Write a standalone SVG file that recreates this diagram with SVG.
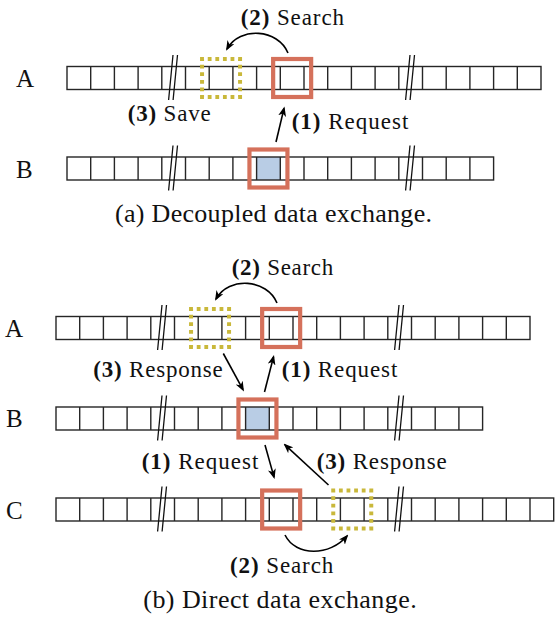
<svg xmlns="http://www.w3.org/2000/svg" width="555" height="617" viewBox="0 0 555 617">
<defs>
<style>
.row{fill:none;stroke:#262626;stroke-width:1.4}
.sl{stroke:#111;stroke-width:1.3;fill:none}
.blue{fill:#B9CDE5}
.red{fill:none;stroke:#D5715B;stroke-width:4.2}
.yel{fill:none;stroke:#C9B83A;stroke-width:4;stroke-dasharray:3.8 3.8;stroke-dashoffset:1.9}
.arr{fill:none;stroke:#000;stroke-width:1.6;marker-end:url(#ah)}
.lbl{font-family:"Liberation Serif","DejaVu Serif",serif;font-size:23px;fill:#111}
.cap{font-family:"Liberation Serif","DejaVu Serif",serif;font-size:26px;fill:#111}
.rl{font-family:"Liberation Serif","DejaVu Serif",serif;font-size:25px;fill:#111}
.b{font-weight:bold}
</style>
<marker id="ah" viewBox="0 0 10 8" refX="8" refY="4" markerWidth="10" markerHeight="8" markerUnits="userSpaceOnUse" orient="auto">
<path d="M0,0 L10,4 L0,8 L2.8,4 Z" fill="#000"/>
</marker>
</defs>
<rect width="555" height="617" fill="#fff"/>

<!-- (a) Decoupled -->
<g id="a-rowA">
<text class="rl" x="16" y="87">A</text>
<rect class="row" x="67" y="66.5" width="474" height="23"/>
<path class="row" d="M90.7,66.5V89.5M114.4,66.5V89.5M138.1,66.5V89.5M161.8,66.5V89.5M185.5,66.5V89.5M209.2,66.5V89.5M232.9,66.5V89.5M256.6,66.5V89.5M280.3,66.5V89.5M304,66.5V89.5M327.7,66.5V89.5M351.4,66.5V89.5M375.1,66.5V89.5M398.8,66.5V89.5M422.5,66.5V89.5M446.2,66.5V89.5M469.9,66.5V89.5M493.6,66.5V89.5M517.3,66.5V89.5"/>
<path class="sl" d="M173,55L168.6,100M177.5,55L173.1,100M410,55L405.6,100M414.5,55L410.1,100"/>
</g>
<g id="a-rowB">
<text class="rl" x="16" y="178">B</text>
<rect class="blue" x="256.6" y="157" width="23.7" height="23"/>
<rect class="row" x="67" y="157" width="426.6" height="23"/>
<path class="row" d="M90.7,157V180M114.4,157V180M138.1,157V180M161.8,157V180M185.5,157V180M209.2,157V180M232.9,157V180M256.6,157V180M280.3,157V180M304,157V180M327.7,157V180M351.4,157V180M375.1,157V180M398.8,157V180M422.5,157V180M446.2,157V180M469.9,157V180"/>
<path class="sl" d="M173,145.5L168.6,190.5M177.5,145.5L173.1,190.5M410,145.5L405.6,190.5M414.5,145.5L410.1,190.5"/>
</g>
<g id="a-boxes">
<rect class="red" x="273.15" y="59" width="38" height="38"/>
<rect class="yel" x="202.05" y="59" width="38" height="38"/>
<rect class="red" x="249.45" y="149.5" width="38" height="38"/>
</g>
<g id="a-connectors">
<path class="arr" d="M288,53 C278,29 240,26 227,49"/>
<path class="arr" d="M276,142 L284,108.4"/>
</g>
<g id="a-labels">
<text class="lbl" x="240.7" y="25" textLength="103.3" lengthAdjust="spacing"><tspan class="b">(2)</tspan> Search</text>
<text class="lbl" x="291.7" y="128.5" textLength="116.6" lengthAdjust="spacing"><tspan class="b">(1)</tspan> Request</text>
<text class="lbl" x="127.7" y="120.7" textLength="83" lengthAdjust="spacing"><tspan class="b">(3)</tspan> Save</text>
<text class="cap" x="115" y="221.7" textLength="317" lengthAdjust="spacing">(a) Decoupled data exchange.</text>
</g>

<!-- (b) Direct -->
<g id="b-rowA">
<text class="rl" x="5" y="337.3">A</text>
<rect class="row" x="56" y="316.5" width="474" height="23"/>
<path class="row" d="M79.7,316.5V339.5M103.4,316.5V339.5M127.1,316.5V339.5M150.8,316.5V339.5M174.5,316.5V339.5M198.2,316.5V339.5M221.9,316.5V339.5M245.6,316.5V339.5M269.3,316.5V339.5M293,316.5V339.5M316.7,316.5V339.5M340.4,316.5V339.5M364.1,316.5V339.5M387.8,316.5V339.5M411.5,316.5V339.5M435.2,316.5V339.5M458.9,316.5V339.5M482.6,316.5V339.5M506.3,316.5V339.5"/>
<path class="sl" d="M162,305L157.6,350M166.5,305L162.1,350M399,305L394.6,350M403.5,305L399.1,350"/>
</g>
<g id="b-rowB">
<text class="rl" x="6" y="427">B</text>
<rect class="blue" x="245.6" y="407" width="23.7" height="23"/>
<rect class="row" x="56" y="407" width="426.6" height="23"/>
<path class="row" d="M79.7,407V430M103.4,407V430M127.1,407V430M150.8,407V430M174.5,407V430M198.2,407V430M221.9,407V430M245.6,407V430M269.3,407V430M293,407V430M316.7,407V430M340.4,407V430M364.1,407V430M387.8,407V430M411.5,407V430M435.2,407V430M458.9,407V430"/>
<path class="sl" d="M162,395.5L157.6,440.5M166.5,395.5L162.1,440.5M399,395.5L394.6,440.5M403.5,395.5L399.1,440.5"/>
</g>
<g id="b-rowC">
<text class="rl" x="6" y="518.5">C</text>
<rect class="row" x="56" y="498" width="497.7" height="23"/>
<path class="row" d="M79.7,498V521M103.4,498V521M127.1,498V521M150.8,498V521M174.5,498V521M198.2,498V521M221.9,498V521M245.6,498V521M269.3,498V521M293,498V521M316.7,498V521M340.4,498V521M364.1,498V521M387.8,498V521M411.5,498V521M435.2,498V521M458.9,498V521M482.6,498V521M506.3,498V521M530,498V521"/>
<path class="sl" d="M162,486.5L157.6,531.5M166.5,486.5L162.1,531.5M399,486.5L394.6,531.5M403.5,486.5L399.1,531.5"/>
</g>
<g id="b-boxes">
<rect class="yel" x="191.05" y="309" width="38" height="38"/>
<rect class="red" x="262.15" y="309" width="38" height="38"/>
<rect class="red" x="238.45" y="399.5" width="38" height="38"/>
<rect class="red" x="262.15" y="490.5" width="38" height="38"/>
<rect class="yel" x="333.25" y="490.5" width="38" height="38"/>
</g>
<g id="b-connectors">
<path class="arr" d="M277,303 C267,279 229,276 216,299"/>
<path class="arr" d="M223.3,353.5 L243,389.7"/>
<path class="arr" d="M264.5,392 L273.5,356.9"/>
<path class="arr" d="M265,445 L274,477.1"/>
<path class="arr" d="M328.5,485 L285,444.9"/>
<path class="arr" d="M285,535 C296,557 330,556 347,536"/>
</g>
<g id="b-labels">
<text class="lbl" x="231.7" y="275" textLength="101.6" lengthAdjust="spacing"><tspan class="b">(2)</tspan> Search</text>
<text class="lbl" x="93.3" y="377" textLength="129.4" lengthAdjust="spacing"><tspan class="b">(3)</tspan> Response</text>
<text class="lbl" x="281.7" y="377" textLength="115.6" lengthAdjust="spacing"><tspan class="b">(1)</tspan> Request</text>
<text class="lbl" x="141.7" y="469" textLength="116.6" lengthAdjust="spacing"><tspan class="b">(1)</tspan> Request</text>
<text class="lbl" x="316.7" y="469" textLength="130" lengthAdjust="spacing"><tspan class="b">(3)</tspan> Response</text>
<text class="lbl" x="230" y="573.3" textLength="103.3" lengthAdjust="spacing"><tspan class="b">(2)</tspan> Search</text>
<text class="cap" x="143.3" y="608.3" textLength="273.4" lengthAdjust="spacing">(b) Direct data exchange.</text>
</g>
</svg>
